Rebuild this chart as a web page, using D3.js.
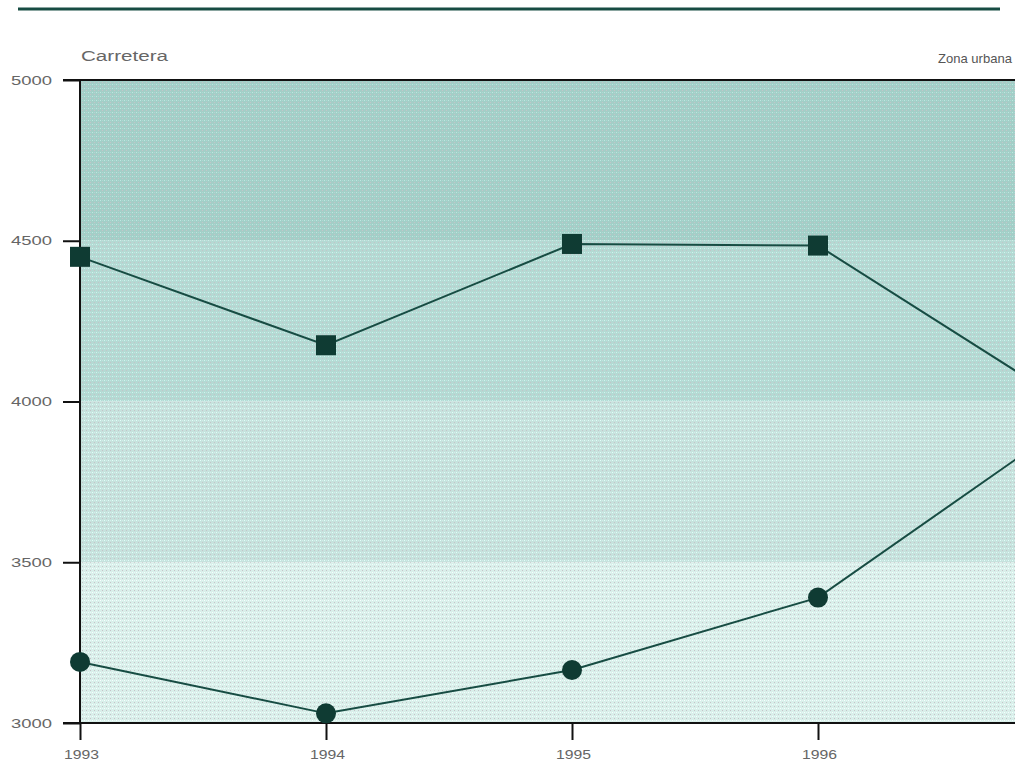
<!DOCTYPE html>
<html>
<head>
<meta charset="utf-8">
<script src="https://cdn.jsdelivr.net/npm/d3@7"></script>
<style>
  html, body { margin: 0; padding: 0; background: #fff; overflow: hidden; }
  svg { display: block; }
  text { font-family: "Liberation Sans", Arial, sans-serif; }
</style>
</head>
<body>
<svg id="chart" width="1015" height="764"></svg>
<script>
// ---- data ----
const years = [1993, 1994, 1995, 1996, 1997];
const tickYears = [1993, 1994, 1995, 1996];
const yearLabels = ["1993", "1994", "1995", "1996"];
const carretera = [4450, 4175, 4490, 4485, 4000];
const zonaUrbana = [3190, 3030, 3165, 3390, 3925];
const yTicks = [3000, 3500, 4000, 4500, 5000];
const bandEdges = [5000, 4500, 4000, 3500, 3000];
const bandColors = ["#a3cec7", "#b4d9d3", "#c6e2dd", "#d9efea"];
const leftLabel = "Carretera";
const rightLabel = "Zona urbana";

const svg = d3.select("#chart");
const mLeft = 80, mTop = 80, mBottom = 723;
const x = d3.scaleLinear().domain([1993, 1997]).range([mLeft, mLeft + 4 * 246]);
const y = d3.scaleLinear().domain([3000, 5000]).range([mBottom, mTop]);
const mRight = x(1997) + 20;

// top rule
svg.append("line").attr("x1", 18).attr("x2", 1000).attr("y1", 9).attr("y2", 9)
  .attr("stroke", "#174c43").attr("stroke-width", 3);

// dotted patterns
const defs = svg.append("defs");
bandColors.forEach((c, i) => {
  const p = defs.append("pattern").attr("id", "pat" + i)
    .attr("width", 4).attr("height", 4).attr("patternUnits", "userSpaceOnUse");
  p.append("rect").attr("width", 4).attr("height", 4).attr("fill", c);
  p.append("rect").attr("x", 0).attr("y", 0).attr("width", 1).attr("height", 1)
    .attr("fill", d3.color(c).brighter(0.35));
  p.append("rect").attr("x", 2).attr("y", 2).attr("width", 1).attr("height", 1)
    .attr("fill", "#c4c4c8");
  p.append("rect").attr("x", 2).attr("y", 0).attr("width", 1).attr("height", 1)
    .attr("fill", d3.color(c).brighter(0.15));
});

// bands
for (let i = 0; i < 4; i++) {
  svg.append("rect")
    .attr("x", mLeft).attr("y", y(bandEdges[i]))
    .attr("width", mRight - mLeft)
    .attr("height", y(bandEdges[i + 1]) - y(bandEdges[i]))
    .attr("fill", "url(#pat" + i + ")");
}

// axes
const yAxis = d3.axisLeft(y).tickValues(yTicks).tickSize(17).tickPadding(11)
  .tickFormat(d3.format("d"));
const gy = svg.append("g").attr("transform", `translate(${mLeft},0)`).call(yAxis);
gy.select(".domain").remove();
gy.selectAll(".tick line").attr("stroke", "#111").attr("stroke-width", 2);
gy.selectAll(".tick text").attr("fill", "#666").attr("font-size", 13)
  .attr("textLength", 41).attr("lengthAdjust", "spacingAndGlyphs")
  .attr("font-family", "Liberation Sans, Arial, sans-serif");

const xAxis = d3.axisBottom(x).tickValues(tickYears).tickSize(17).tickPadding(10)
  .tickFormat((d, i) => yearLabels[i]);
const gx = svg.append("g").attr("transform", `translate(0,${mBottom})`).call(xAxis);
gx.select(".domain").remove();
gx.selectAll(".tick line").attr("stroke", "#111").attr("stroke-width", 2);
gx.selectAll(".tick text").attr("fill", "#666").attr("font-size", 12)
  .attr("textLength", 35).attr("lengthAdjust", "spacingAndGlyphs").attr("dx", "1")
  .attr("font-family", "Liberation Sans, Arial, sans-serif");

// frame lines
svg.append("line").attr("x1", mLeft).attr("x2", mLeft).attr("y1", mTop).attr("y2", mBottom)
  .attr("stroke", "#111").attr("stroke-width", 2);
svg.append("line").attr("x1", mLeft - 17).attr("x2", mRight).attr("y1", mTop).attr("y2", mTop)
  .attr("stroke", "#111").attr("stroke-width", 2);
svg.append("line").attr("x1", mLeft - 17).attr("x2", mRight).attr("y1", mBottom).attr("y2", mBottom)
  .attr("stroke", "#111").attr("stroke-width", 2);

// series labels
svg.append("text").attr("x", 81).attr("y", 61).attr("font-size", 14)
  .attr("fill", "#666").attr("textLength", 87).attr("lengthAdjust", "spacingAndGlyphs")
  .text(leftLabel);
svg.append("text").attr("x", 938).attr("y", 63).attr("font-size", 13)
  .attr("fill", "#555").attr("textLength", 74).attr("lengthAdjust", "spacingAndGlyphs")
  .text(rightLabel);

// lines
const line = d3.line().x((d, i) => x(years[i])).y(d => y(d));
const lineColor = "#174c43";
const markColor = "#0f3b33";
svg.append("path").datum(carretera).attr("d", line)
  .attr("fill", "none").attr("stroke", lineColor).attr("stroke-width", 2);
svg.append("path").datum(zonaUrbana).attr("d", line)
  .attr("fill", "none").attr("stroke", lineColor).attr("stroke-width", 2);

svg.selectAll(".sq").data(carretera).enter().append("rect")
  .attr("x", (d, i) => x(years[i]) - 10).attr("y", d => y(d) - 10)
  .attr("width", 20).attr("height", 20).attr("fill", markColor);
svg.selectAll(".ci").data(zonaUrbana).enter().append("circle")
  .attr("cx", (d, i) => x(years[i])).attr("cy", d => y(d))
  .attr("r", 10).attr("fill", markColor);
</script>
</body>
</html>
